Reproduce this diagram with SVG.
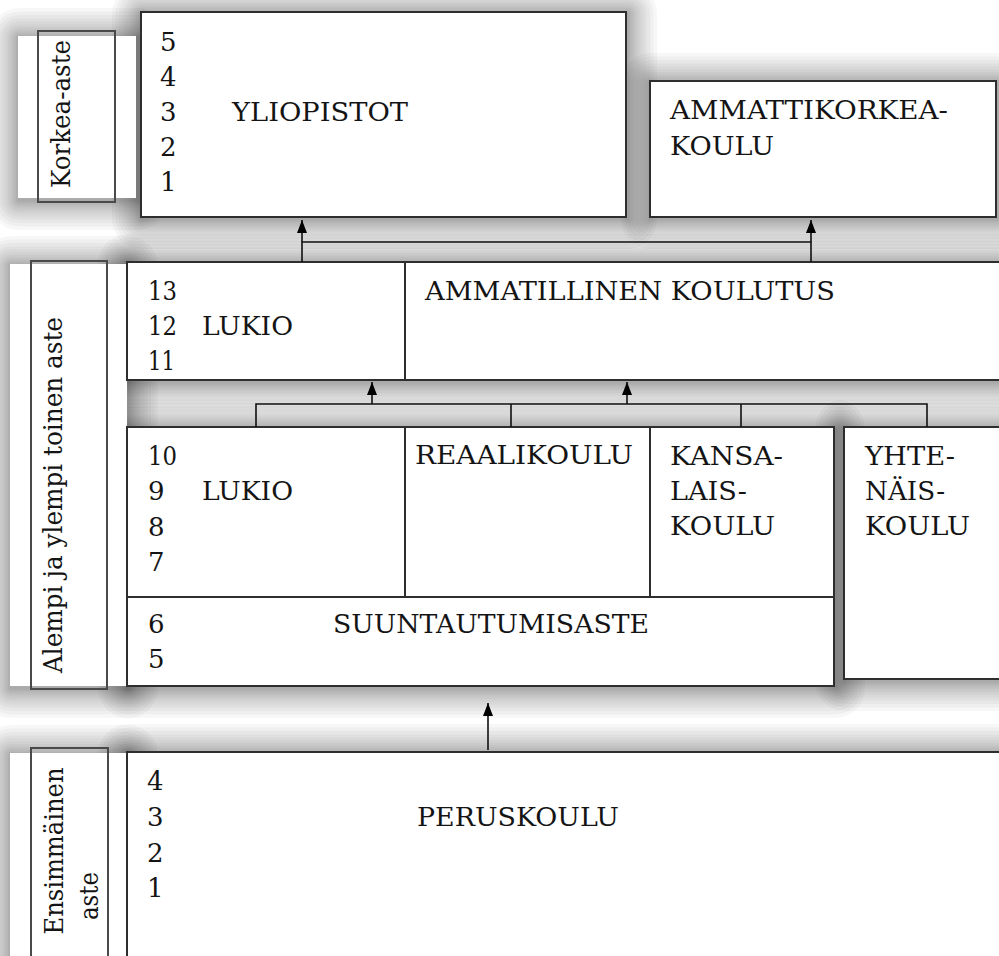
<svg xmlns="http://www.w3.org/2000/svg" xmlns:xlink="http://www.w3.org/1999/xlink" width="999" height="956" viewBox="0 0 999 956">
  <defs>
    <style>
      .box { fill: #ffffff; stroke: #2e2e2e; stroke-width: 2; }
      .panel { fill: #ffffff; stroke: none; }
      .lbl { fill: none; stroke: #4a4a4a; stroke-width: 2; }
      .div { fill: none; stroke: #2e2e2e; stroke-width: 2; }
      .conn { fill: none; stroke: #111; stroke-width: 1.6; }
      .sh { fill: none; stroke: #000; stroke-opacity: 0.032; stroke-linejoin: round; }
    </style>
    <!-- outlines that cast the soft shadow -->
    <g id="casters">
      <rect x="18" y="36" width="118" height="162"/>
      <rect x="141" y="12" width="485" height="205"/>
      <rect x="650" y="81" width="346" height="136"/>
      <rect x="10" y="264" width="117" height="422"/>
      <rect x="127" y="262" width="890" height="118"/>
      <rect x="127" y="427" width="707" height="259"/>
      <rect x="844" y="427" width="170" height="252"/>
      <rect x="10" y="753" width="117" height="220"/>
      <rect x="127" y="752" width="890" height="220"/>
    </g>
    <marker id="head" viewBox="0 0 13 10" refX="13" refY="5" markerWidth="13" markerHeight="10" markerUnits="userSpaceOnUse" orient="auto">
      <path d="M0 0 L13 5 L0 10 Z" fill="#000"/>
    </marker>
  </defs>

  <rect width="999" height="956" fill="#ffffff"/>

  <!-- soft shadow built from widening translucent outlines -->
  <g id="shadows" class="sh" transform="translate(1 2)">
    <use xlink:href="#casters" href="#casters" stroke-width="3"/>
    <use xlink:href="#casters" href="#casters" stroke-width="6"/>
    <use xlink:href="#casters" href="#casters" stroke-width="9"/>
    <use xlink:href="#casters" href="#casters" stroke-width="13"/>
    <use xlink:href="#casters" href="#casters" stroke-width="17"/>
    <use xlink:href="#casters" href="#casters" stroke-width="22"/>
    <use xlink:href="#casters" href="#casters" stroke-width="27"/>
    <use xlink:href="#casters" href="#casters" stroke-width="33"/>
    <use xlink:href="#casters" href="#casters" stroke-width="39"/>
    <use xlink:href="#casters" href="#casters" stroke-width="46"/>
    <use xlink:href="#casters" href="#casters" stroke-width="53"/>
    <use xlink:href="#casters" href="#casters" stroke-width="60"/>
  </g>

  <g font-family="DejaVu Serif, serif" font-size="26" fill="#141414">
  <!-- level labels -->
  <g id="label-korkea">
    <rect class="panel" x="18" y="36" width="118" height="162"/>
    <rect class="lbl" x="38" y="31" width="77" height="171"/>
    <text transform="translate(70 114) rotate(-90)" text-anchor="middle" textLength="148" lengthAdjust="spacingAndGlyphs">Korkea-aste</text>
  </g>
  <g id="label-toinen">
    <rect class="panel" x="10" y="264" width="117" height="422"/>
    <rect class="lbl" x="31" y="261" width="76" height="428"/>
    <text transform="translate(62 495) rotate(-90)" text-anchor="middle" textLength="356" lengthAdjust="spacingAndGlyphs">Alempi ja ylempi toinen aste</text>
  </g>
  <g id="label-ensimmainen">
    <rect class="panel" x="10" y="753" width="117" height="210"/>
    <rect class="lbl" x="31" y="748" width="77" height="215"/>
    <text transform="translate(63 851) rotate(-90)" text-anchor="middle" textLength="167" lengthAdjust="spacingAndGlyphs">Ensimmäinen</text>
    <text transform="translate(98 896) rotate(-90)" text-anchor="middle" textLength="48" lengthAdjust="spacingAndGlyphs">aste</text>
  </g>

  <!-- higher education -->
  <g id="yliopistot">
    <rect class="box" x="141" y="12" width="485" height="205"/>
    <text x="160" y="51">5</text>
    <text x="160" y="86">4</text>
    <text x="160" y="121">3</text>
    <text x="160" y="156">2</text>
    <text x="160" y="191">1</text>
    <text x="232" y="121" textLength="176" lengthAdjust="spacingAndGlyphs">YLIOPISTOT</text>
  </g>
  <g id="ammattikorkeakoulu">
    <rect class="box" x="650" y="81" width="346" height="136"/>
    <text x="670" y="119" textLength="278" lengthAdjust="spacingAndGlyphs">AMMATTIKORKEA-</text>
    <text x="670" y="155" textLength="104" lengthAdjust="spacingAndGlyphs">KOULU</text>
  </g>

  <!-- upper secondary -->
  <g id="lukio-ylempi">
    <rect class="box" x="127" y="262" width="278" height="118"/>
    <text x="148" y="300" textLength="29" lengthAdjust="spacingAndGlyphs">13</text>
    <text x="148" y="335" textLength="29" lengthAdjust="spacingAndGlyphs">12</text>
    <text x="148" y="370" textLength="27" lengthAdjust="spacingAndGlyphs">11</text>
    <text x="202" y="335" textLength="91" lengthAdjust="spacingAndGlyphs">LUKIO</text>
  </g>
  <g id="ammatillinen">
    <rect class="box" x="405" y="262" width="610" height="118"/>
    <text x="425" y="300" textLength="410" lengthAdjust="spacingAndGlyphs">AMMATILLINEN KOULUTUS</text>
  </g>

  <!-- lower secondary -->
  <g id="alempi">
    <rect class="box" x="127" y="427" width="707" height="259"/>
    <path class="div" d="M127 597 H834 M405 427 V597 M650 427 V597"/>
  </g>
  <g id="lukio-alempi">
    <text x="148" y="465" textLength="29" lengthAdjust="spacingAndGlyphs">10</text>
    <text x="148" y="500">9</text>
    <text x="148" y="536">8</text>
    <text x="148" y="571">7</text>
    <text x="202" y="500" textLength="91" lengthAdjust="spacingAndGlyphs">LUKIO</text>
  </g>
  <g id="reaalikoulu">
    <text x="415" y="464" textLength="218" lengthAdjust="spacingAndGlyphs">REAALIKOULU</text>
  </g>
  <g id="kansalaiskoulu">
    <text x="670" y="465" textLength="113" lengthAdjust="spacingAndGlyphs">KANSA-</text>
    <text x="670" y="500" textLength="77" lengthAdjust="spacingAndGlyphs">LAIS-</text>
    <text x="670" y="535" textLength="105" lengthAdjust="spacingAndGlyphs">KOULU</text>
  </g>
  <g id="suuntautumisaste">
    <text x="148" y="633">6</text>
    <text x="148" y="668">5</text>
    <text x="333" y="633" textLength="316" lengthAdjust="spacingAndGlyphs">SUUNTAUTUMISASTE</text>
  </g>
  <g id="yhtenaiskoulu">
    <rect class="box" x="844" y="427" width="170" height="252"/>
    <text x="865" y="465" textLength="90" lengthAdjust="spacingAndGlyphs">YHTE-</text>
    <text x="865" y="500" textLength="80" lengthAdjust="spacingAndGlyphs">NÄIS-</text>
    <text x="865" y="535" textLength="105" lengthAdjust="spacingAndGlyphs">KOULU</text>
  </g>

  <!-- primary -->
  <g id="peruskoulu">
    <rect class="box" x="127" y="752" width="890" height="220"/>
    <text x="147" y="790">4</text>
    <text x="147" y="826">3</text>
    <text x="147" y="862">2</text>
    <text x="147" y="897">1</text>
    <text x="417" y="826" textLength="202" lengthAdjust="spacingAndGlyphs">PERUSKOULU</text>
  </g>
  </g>

  <!-- connectors -->
  <g id="connectors">
    <path class="conn" d="M302 262 V242 H811 V262"/>
    <path class="conn" d="M302 242 V220" marker-end="url(#head)"/>
    <path class="conn" d="M811 242 V220" marker-end="url(#head)"/>
    <path class="conn" d="M256 427 V404 H927 V427 M511 404 V427 M741 404 V427"/>
    <path class="conn" d="M372 404 V382" marker-end="url(#head)"/>
    <path class="conn" d="M627 404 V382" marker-end="url(#head)"/>
    <path class="conn" d="M488 750 V703" marker-end="url(#head)"/>
  </g>
</svg>
